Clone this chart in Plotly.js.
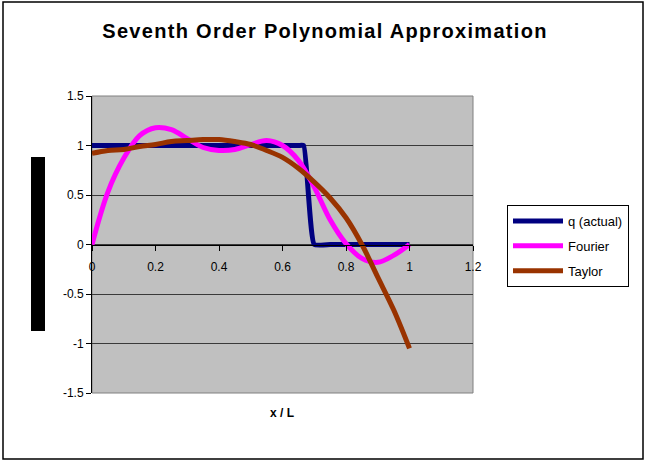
<!DOCTYPE html>
<html>
<head>
<meta charset="utf-8">
<script src="https://cdn.plot.ly/plotly-3.0.1.min.js"></script>
<style>
  html, body { margin: 0; padding: 0; background: #fff; }
  #chart { width: 647px; height: 462px; }
  #chart .gtitle { letter-spacing: 1.3px; }
</style>
</head>
<body>
<div id="chart"></div>
<script>
// ── data ──
const qX = [0, 0.05, 0.1, 0.15, 0.2, 0.25, 0.3, 0.35, 0.4, 0.45, 0.5, 0.55, 0.6, 0.65, 0.6667, 0.7, 0.75, 0.8, 0.85, 0.9, 0.95, 1.0];
const qY = [1, 1, 1, 1, 1, 1, 1, 1, 1, 1, 1, 1, 1, 1, 1, 0, 0, 0, 0, 0, 0, 0];

const xL = [0, 0.05, 0.1, 0.15, 0.2, 0.25, 0.3, 0.35, 0.4, 0.45, 0.5, 0.55, 0.6, 0.65, 0.7, 0.75, 0.8, 0.85, 0.9, 0.95, 1.0];
const fourier = [0, 0.53, 0.87, 1.10, 1.18, 1.16, 1.07, 0.98, 0.95, 0.96, 1.01, 1.05, 1.00, 0.85, 0.58, 0.25, 0.01, -0.14, -0.18, -0.11, 0.0];
const taylor  = [0.92, 0.95, 0.96, 0.99, 1.01, 1.04, 1.05, 1.06, 1.06, 1.04, 1.01, 0.95, 0.88, 0.77, 0.63, 0.47, 0.27, 0.0, -0.33, -0.66, -1.05];

const xTicks = [0, 0.2, 0.4, 0.6, 0.8, 1, 1.2];
const yTicks = [-1.5, -1, -0.5, 0, 0.5, 1, 1.5];

// ── pixel helpers (plot area is 92..473 x 96..393) ──
const W = 647, H = 462;
const M = { l: 92, r: 174, t: 96, b: 69 };
const PW = W - M.l - M.r, PH = H - M.t - M.b;
const px = x => (x - M.l) / PW;
const py = y => (H - M.b - y) / PH;

const FONT = 'Liberation Sans, Arial, sans-serif';

const traces = [
  { x: qX, y: qY, name: 'q (actual)', mode: 'lines', legendgroup: 'a',
    line: { color: '#000080', width: 5, shape: 'spline', smoothing: 0.4 } },
  { x: xL, y: fourier, name: 'Fourier', mode: 'lines', legendgroup: 'b',
    line: { color: '#FF00FF', width: 5, shape: 'spline', smoothing: 1 } },
  { x: xL, y: taylor, name: 'Taylor', mode: 'lines', legendgroup: 'c',
    line: { color: '#993300', width: 5, shape: 'spline', smoothing: 1 } }
];

const layout = {
  width: W, height: H,
  margin: M,
  paper_bgcolor: '#ffffff',
  plot_bgcolor: '#C0C0C0',
  font: { family: FONT, size: 12, color: '#000' },
  title: {
    text: '<b>Seventh Order Polynomial Approximation</b>',
    font: { family: FONT, size: 20, color: '#000' },
    xref: 'paper', x: px(325), xanchor: 'center',
    yref: 'container', y: 1 - 31 / H, yanchor: 'middle'
  },
  xaxis: {
    range: [0, 1.2], tickvals: xTicks, ticktext: xTicks.map(String),
    anchor: 'free', position: 0.5,
    showgrid: false, zeroline: false,
    showline: true, linecolor: '#000', linewidth: 1.5,
    ticks: 'outside', ticklen: 5, tickcolor: '#000',
    ticklabelstandoff: 6,
    tickfont: { family: FONT, size: 12 }
  },
  yaxis: {
    range: [-1.5, 1.5], tickvals: yTicks, ticktext: yTicks.map(String),
    showgrid: true, gridcolor: '#3a3a3a', gridwidth: 1,
    zeroline: false,
    showline: true, linecolor: '#000', linewidth: 1,
    ticks: 'outside', ticklen: 5, tickcolor: '#000',
    tickfont: { family: FONT, size: 12 }
  },
  showlegend: true,
  legend: {
    x: px(507), y: py(205), xanchor: 'left', yanchor: 'top',
    bgcolor: '#fff', bordercolor: '#000', borderwidth: 1,
    font: { family: FONT, size: 13, color: '#000' },
    traceorder: 'grouped', tracegroupgap: 5, itemwidth: 50
  },
  annotations: [
    { text: '<b>x / L</b>', xref: 'paper', yref: 'paper', x: px(282), y: py(422),
      showarrow: false, font: { family: FONT, size: 12, color: '#000' } }
  ],
  shapes: [
    // plot area frame
    { type: 'rect', xref: 'paper', yref: 'paper', x0: 0, x1: 1, y0: 0, y1: 1,
      line: { color: '#808080', width: 1 }, layer: 'below' },
    // black block where the y title sits
    { type: 'rect', xref: 'paper', yref: 'paper', x0: px(31), x1: px(45), y0: py(331), y1: py(157),
      fillcolor: '#000', line: { width: 0 } },
    // chart border
    { type: 'rect', xref: 'paper', yref: 'paper', x0: px(3), x1: px(643), y0: py(459), y1: py(2),
      line: { color: '#000', width: 1.5 } }
  ]
};

Plotly.newPlot('chart', traces, layout, { staticPlot: true, displayModeBar: false });
</script>
</body>
</html>
